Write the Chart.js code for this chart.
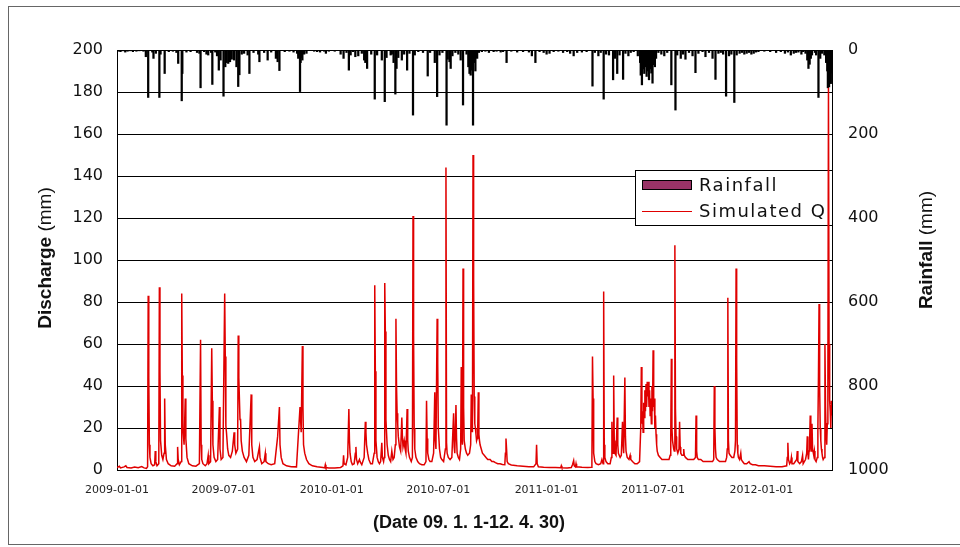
<!DOCTYPE html>
<html>
<head>
<meta charset="utf-8">
<script src="https://cdn.jsdelivr.net/npm/chart.js@4.4.1/dist/chart.umd.min.js"></script>
<style>
  html, body { margin: 0; padding: 0; background: #fff; }
  #wrap { width: 960px; height: 547px; }
</style>
</head>
<body>
<div id="wrap"><canvas id="grafico" width="960" height="547"></canvas></div>
<script>
// dias desde 2009-01-01 y etiquetas del eje x
const tickDays = [0, 181, 365, 546, 730, 911, 1095];
const tickLabels = ['2009-01-01', '2009-07-01', '2010-01-01', '2010-07-01', '2011-01-01', '2011-07-01', '2012-01-01'];
const lastDay = 1215; // 2012-04-30

const leftTicks = [0, 20, 40, 60, 80, 100, 120, 140, 160, 180, 200];
const rightTicks = [0, 200, 400, 600, 800, 1000];

// caudal simulado [dia, mm]
const discharge = [
  [0,1.2],[4,1.8],[6,1.0],[12,1.5],[15,2.0],[17,1.2],[24,1.0],[30,1.4],[36,1.1],[42,1.6],[46,1.0],[50,0.8],
  [52,1.5],[53,83],[54,44],[55,12],[56,6],[58,3],[61,2],[64,2.5],[65,9],[66,4],[68,2],
  [71,3],[72,87],[73,47],[74,14],[76,7],[78,5],[80,8],[81,34],[82,12],[84,5],[87,3],[92,2],[98,1.8],
  [102,3],[103,11],[104,5],[106,2.5],[109,4],[110,84],[111,45],[112,20],[114,12],[116,34],[117,15],[119,6],[122,3],[128,2],[134,1.8],
  [140,3],[142,62],[143,12],[144,5],[146,3],[150,2],[153,3],[155,7],[156,3],[159,4],[161,58],[162,33],[163,12],[165,6],[168,4],
  [171,5],[174,30],[175,10],[177,5],[180,6],[183,84],[184,54],[185,21],[186,18],[188,10],[190,7],[193,6],[196,9],[199,18],[200,12],
  [202,8],[205,10],[206,64],[207,44],[209,24],[210,24],[211,14],[213,9],[216,6],[220,4],[224,7],[228,36],[229,12],[231,6],[234,4],
  [238,5],[242,11],[243,6],[246,3],[250,4],[252,8],[253,4],[257,3],[262,2.5],[268,3],[273,16],[276,30],[277,12],[279,6],[282,3],
  [288,2],[296,1.6],[305,1.5],[311,30],[313,18],[315,59],[316,30],[317,12],[319,8],[322,5],[326,3],[332,2],[340,1.5],[350,1.2],
  [353,1],[354,2.5],[355,1.2],[360,1.0],[370,1.0],
  [380,1.2],[384,2],[385,7],[386,3],[389,2.5],[392,6],[394,29],[395,14],[396,8],[398,4],[400,2.5],[403,3],[405,8],[406,11],[407,5],
  [409,3],[412,5],[413,4],[416,2.5],[420,6],[422,23],[423,18],[424,12],[426,8],[428,5],[431,3],[434,3],[437,8],[438,88],[439,47],
  [440,14],[442,6],[444,4],[446,3],[448,4],[450,13],[451,6],[453,4],[454,6],[455,89],[456,66],[457,24],[459,12],[461,7],[463,5],
  [465,4],[467,9],[469,5],[471,6],[473,12],[474,72],[475,40],[476,27],[477,22],[478,16],[480,11],[482,9],[484,25],[485,16],[486,11],
  [488,14],[489,11],[491,8],[493,29],[494,14],[495,9],[497,6],[500,4],[502,6],[503,121],[504,64],[505,20],[506,10],[508,6],[511,4],
  [514,3],[518,2.5],[522,2.5],[525,4],[526,33],[527,15],[528,8],[530,5],[532,4],[535,4],[538,8],[540,37],[541,14],[542,10],[544,72],
  [545,51],[546,20],[548,10],[550,6],[552,5],[555,4],[558,10],[559,144],[560,13],[561,8],[563,6],[566,5],[569,6],[572,27],[573,11],
  [574,8],[576,31],[577,15],[578,8],[580,6],[582,5],[584,10],[585,49],[586,16],[587,12],[588,96],[589,30],[590,14],[592,10],[594,8],
  [596,7],[599,8],[601,12],[602,36],[603,20],[604,18],[605,150],[606,91],[607,35],[608,22],[609,20],[610,17],[611,14],[612,15],[613,20],
  [614,37],[615,17],[616,14],[617,12],[619,10],[621,8],[624,7],[627,6],[630,5],[634,5],[637,4],[640,4],[643,3.5],[647,3],[651,3],
  [655,2.6],[659,2.5],[660,8],[661,15],[662,10],[663,4],[665,3],[670,2.4],[680,2],[690,1.8],[700,1.6],[708,1.5],[712,3],[713,12],
  [714,3],[716,1.5],[725,1.3],[735,1.2],[745,1.2],[754,1.1],[755,2],[756,1.1],[765,1.0],[772,1.2],[774,2.5],[776,4.5],[777,2],
  [779,1.5],[780,3],[781,1.5],[790,1.3],[800,1.2],[806,1.3],[807,4],[808,54],[809,34],[810,8],[812,4],[814,3],[818,2.5],[822,3],
  [824,5],[825,4],[826,3],[827,85],[828,12],[829,6],[831,4],[834,3],[838,3],[840,6],[841,23],[842,12],[843,8],[844,45],[845,14],
  [846,8],[848,7],[850,25],[851,12],[852,8],[855,6],[857,7],[859,23],[860,12],[861,8],[863,44],[864,16],[865,9],[867,6],[870,5],
  [872,7],[873,5],[876,4],[880,3],[884,3],[888,4],[890,20],[891,49],[892,22],[893,28],[894,18],[895,32],[896,25],[897,38],[898,28],
  [899,41],[900,30],[901,42],[902,35],[903,42],[904,30],[905,38],[906,26],[907,34],[908,22],[909,40],[910,28],[911,57],[912,30],
  [913,34],[914,20],[915,26],[916,17],[917,12],[918,9],[920,7],[923,6],[926,5],[930,5],[934,5],[938,5],[940,7],[941,16],[942,53],
  [943,20],[944,14],[946,10],[947,9],[948,107],[949,29],[950,16],[951,10],[953,8],[955,10],[956,23],[957,11],[958,8],[960,7],[962,7],
  [963,10],[964,7],[966,6],[970,5],[975,5],[980,5],[983,6],[984,26],[985,9],[986,6],[988,5],[992,5],[996,4],[1000,4],[1004,4],
  [1008,4],[1012,4],[1014,5],[1015,40],[1016,20],[1017,10],[1018,6],[1020,5],[1024,4],[1028,4],[1034,4],[1036,6],[1037,10],[1038,82],
  [1039,14],[1040,8],[1042,7],[1045,6],[1048,6],[1050,9],[1051,14],[1052,96],[1053,52],[1054,12],[1055,8],[1056,6],[1058,5],[1060,8],
  [1061,5],[1063,4],[1066,3],[1070,3],[1074,4],[1076,3],[1080,2.5],[1085,2.5],[1090,2],[1095,2],[1100,2],[1110,1.8],[1120,1.6],
  [1130,1.6],[1138,2],[1139,6],[1140,13],[1141,5],[1143,3],[1145,4],[1146,6],[1147,3],[1150,3],[1155,5],[1156,9],[1157,4],[1160,3],
  [1163,4],[1165,7],[1166,3],[1170,5],[1172,8],[1173,16],[1174,8],[1175,5],[1176,9],[1177,14],[1178,26],[1179,12],[1180,9],[1181,22],
  [1182,10],[1184,7],[1185,9],[1186,5],[1188,4],[1190,6],[1191,20],[1192,45],[1193,79],[1194,40],[1195,20],[1196,14],[1197,10],
  [1198,8],[1199,6],[1200,5],[1202,6],[1203,60],[1204,30],[1205,18],[1206,12],[1207,22],[1208,40],[1209,182],[1210,60],[1211,33],
  [1212,28],[1213,20],[1214,33],[1215,26]
];

// precipitacion diaria [dia, mm]
const rainfall = [
  [3,3],[6,4],[10,2],[14,5],[18,3],[22,2],[27,4],[33,3],[38,2],[45,3],[49,16],[53,113],[60,5],[62,20],[66,8],[72,113],[74,10],
  [81,56],[88,4],[95,3],[101,6],[104,32],[110,121],[111,56],[118,5],[125,4],[136,6],[140,8],[142,90],[148,4],[152,10],[155,12],
  [160,6],[162,82],[167,5],[170,14],[173,48],[176,24],[181,110],[184,40],[186,30],[189,32],[192,28],[195,22],[199,24],[203,40],
  [206,87],[208,59],[212,10],[216,8],[222,12],[225,56],[232,6],[240,10],[242,28],[250,6],[256,24],[262,5],[270,20],[273,28],
  [276,49],[285,4],[293,3],[300,5],[306,8],[308,20],[309,14],[311,99],[312,30],[313,18],[315,24],[318,10],[322,8],[335,3],[340,4],
  [345,5],[352,3],[355,8],[360,3],[370,3],[380,10],[385,20],[390,6],[394,48],[397,12],[401,4],[405,16],[410,14],[416,8],[420,24],
  [422,30],[425,44],[432,10],[438,117],[442,12],[450,24],[455,123],[458,18],[465,12],[467,10],[470,30],[473,105],[475,44],[478,18],
  [484,24],[488,10],[493,48],[497,8],[503,155],[506,12],[512,4],[520,6],[528,62],[532,6],[540,30],[544,111],[548,12],[553,6],
  [560,179],[562,22],[565,28],[567,44],[570,14],[575,6],[580,10],[584,24],[588,131],[594,10],[597,40],[599,56],[601,60],[603,48],
  [605,179],[607,30],[609,50],[612,20],[615,6],[620,4],[626,3],[632,6],[640,4],[645,3],[652,5],[656,4],[662,30],[670,3],[680,5],
  [690,4],[700,5],[705,14],[711,30],[718,4],[725,6],[730,10],[735,8],[742,4],[750,3],[758,6],[765,4],[770,8],[776,14],[782,6],
  [790,5],[798,4],[808,86],[812,6],[818,14],[822,6],[827,117],[831,10],[836,12],[843,71],[846,20],[850,56],[854,12],[860,70],
  [864,8],[869,14],[873,6],[878,4],[885,14],[889,30],[890,60],[892,83],[894,45],[896,56],[898,40],[900,63],[902,50],[904,71],
  [906,45],[908,55],[910,79],[912,35],[914,40],[916,20],[920,6],[925,10],[930,14],[935,6],[942,83],[949,143],[952,12],[958,20],
  [962,10],[966,22],[972,6],[978,14],[983,54],[988,8],[995,4],[1000,16],[1006,6],[1012,20],[1017,70],[1022,8],[1026,6],[1030,10],
  [1035,110],[1040,14],[1044,10],[1049,125],[1053,12],[1058,8],[1062,6],[1066,10],[1070,8],[1074,6],[1078,10],[1082,8],[1086,5],
  [1090,4],[1100,3],[1110,4],[1120,6],[1128,4],[1135,8],[1140,5],[1145,12],[1150,8],[1154,6],[1158,5],[1163,10],[1166,4],[1170,8],
  [1173,24],[1175,44],[1177,34],[1179,20],[1181,12],[1186,6],[1188,12],[1192,113],[1195,20],[1198,8],[1202,12],[1205,30],[1207,50],
  [1208,90],[1209,70],[1210,88],[1211,60],[1212,75],[1213,80],[1214,55],[1215,40]
];

const ctx = document.getElementById('grafico').getContext('2d');

// marco exterior, titulos de ejes y leyenda dibujados a mano
const extras = {
  id: 'extras',
  beforeDraw(chart) {
    const c = chart.ctx;
    c.save();
    c.fillStyle = '#fff';
    c.fillRect(0, 0, chart.width, chart.height);
    c.strokeStyle = '#666';
    c.lineWidth = 1;
    c.strokeRect(8.5, 6.5, 1000, 538);
    c.restore();
  },
  beforeDatasetsDraw(chart) {
    const c = chart.ctx;
    const area = chart.chartArea;
    c.save();
    // leyenda
    const lx = 635.5, ly = 170.5, lw = area.right - 635, lh = 55;
    c.fillStyle = '#fff';
    c.fillRect(lx, ly, lw, lh);
    c.strokeStyle = '#000';
    c.lineWidth = 1;
    c.strokeRect(lx, ly, lw, lh);
    const ds = chart.data.datasets;
    c.fillStyle = '#993366';
    c.fillRect(642, 180, 50, 10);
    c.strokeRect(642.5, 180.5, 49, 9);
    c.strokeStyle = ds[1].borderColor;
    c.beginPath();
    c.moveTo(642, 211.5);
    c.lineTo(692, 211.5);
    c.stroke();
    c.fillStyle = '#111';
    c.font = '18px "DejaVu Sans"';
    c.letterSpacing = '1.5px';
    c.textBaseline = 'middle';
    c.textAlign = 'left';
    c.fillText(ds[0].label, 699, 186);
    c.fillText(ds[1].label, 699, 212);
    c.restore();
  },
  afterDraw(chart) {
    const c = chart.ctx;
    c.save();
    c.fillStyle = '#111';
    c.textBaseline = 'middle';
    // titulo eje izquierdo
    c.save();
    c.translate(46, 258);
    c.rotate(-Math.PI / 2);
    c.font = 'bold 19px "Liberation Sans"';
    const w1 = c.measureText('Discharge ').width;
    c.font = '19px "Liberation Sans"';
    const w2 = c.measureText('(mm)').width;
    c.textAlign = 'left';
    c.font = 'bold 19px "Liberation Sans"';
    c.fillText('Discharge ', -(w1 + w2) / 2, 0);
    c.font = '19px "Liberation Sans"';
    c.fillText('(mm)', -(w1 + w2) / 2 + w1, 0);
    c.restore();
    // titulo eje derecho
    c.save();
    c.translate(927, 250);
    c.rotate(-Math.PI / 2);
    c.font = 'bold 19px "Liberation Sans"';
    const r1 = c.measureText('Rainfall ').width;
    c.font = '19px "Liberation Sans"';
    const r2 = c.measureText('(mm)').width;
    c.textAlign = 'left';
    c.font = 'bold 19px "Liberation Sans"';
    c.fillText('Rainfall ', -(r1 + r2) / 2, 0);
    c.font = '19px "Liberation Sans"';
    c.fillText('(mm)', -(r1 + r2) / 2 + r1, 0);
    c.restore();
    // titulo eje x
    c.font = 'bold 18px "Liberation Sans Narrow", "Liberation Sans"';
    c.textAlign = 'center';
    c.fillText('(Date 09. 1. 1-12. 4. 30)', 469, 523);
    c.restore();
  }
};

new Chart(ctx, {
  data: {
    datasets: [
      {
        type: 'bar',
        label: 'Rainfall',
        data: rainfall.map(p => ({ x: p[0], y: p[1] })),
        yAxisID: 'y2',
        backgroundColor: '#000',
        borderWidth: 0,
        barThickness: 1.6,
        order: 2
      },
      {
        type: 'line',
        label: 'Simulated Q',
        data: discharge.map(p => ({ x: p[0], y: p[1] })),
        yAxisID: 'y',
        borderColor: '#e00000',
        borderWidth: 1.5,
        pointRadius: 0,
        tension: 0,
        fill: false,
        order: 1
      }
    ]
  },
  options: {
    responsive: false,
    animation: false,
    events: [],
    layout: { padding: { top: 50, left: 0, right: 0, bottom: 0 } },
    plugins: {
      legend: { display: false },
      tooltip: { enabled: false }
    },
    scales: {
      x: {
        type: 'linear',
        offset: false,
        min: 0,
        max: lastDay,
        grid: { display: false, drawTicks: false, offset: false },
        border: { color: '#000', width: 1 },
        afterBuildTicks: s => { s.ticks = tickDays.map(v => ({ value: v })); },
        afterFit: s => { s.height = 77; },
        ticks: {
          autoSkip: false,
          maxRotation: 0,
          padding: 14,
          color: '#222',
          font: { family: 'DejaVu Sans', size: 11 },
          callback: v => tickLabels[tickDays.indexOf(v)]
        }
      },
      y: {
        position: 'left',
        min: 0,
        max: 200,
        afterBuildTicks: s => { s.ticks = leftTicks.map(v => ({ value: v })); },
        afterFit: s => { s.width = 117; },
        grid: { color: '#000', lineWidth: 1, drawTicks: false },
        border: { color: '#000', width: 1 },
        ticks: {
          padding: 14,
          color: '#111',
          font: { family: 'DejaVu Sans', size: 16 }
        }
      },
      y2: {
        position: 'right',
        min: 0,
        max: 1000,
        reverse: true,
        afterBuildTicks: s => { s.ticks = rightTicks.map(v => ({ value: v })); },
        afterFit: s => { s.width = 128; },
        grid: { display: false, drawTicks: false },
        border: { color: '#000', width: 1 },
        ticks: {
          padding: 16,
          color: '#111',
          font: { family: 'DejaVu Sans', size: 16 },
          callback: v => String(v)
        }
      }
    }
  },
  plugins: [extras]
});
</script>
</body>
</html>
